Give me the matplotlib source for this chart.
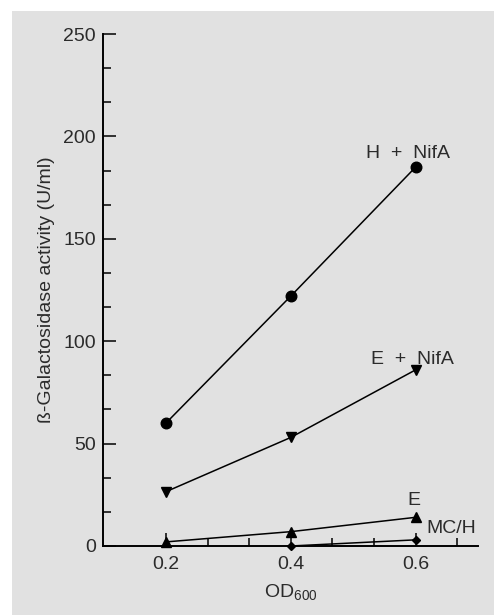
import matplotlib
matplotlib.use('Agg')
import matplotlib.pyplot as plt
from matplotlib.patches import Rectangle
from matplotlib.ticker import MultipleLocator, FixedLocator

# values
od = [0.2, 0.4, 0.6]
h_nifa = [60, 122, 185]
e_nifa = [26.5, 53, 86]
e_only = [2, 7, 14]
od_mch = [0.4, 0.6]
mch = [0, 3]

plt.rcParams['font.family'] = ['Liberation Sans', 'DejaVu Sans']
plt.rcParams['mathtext.fontset'] = 'custom'
plt.rcParams['mathtext.rm'] = 'Liberation Sans'
txt = '#2b2b2b'

fig = plt.figure(figsize=(4.94, 6.15), dpi=100, facecolor='white')
# grey panel with small white margin at left/top
fig.patches.append(Rectangle((12 / 494, 0), 1, 1 - 11 / 615, transform=fig.transFigure,
                             facecolor='#e1e1e1', edgecolor='none', zorder=-10))

ax = fig.add_axes([0.2095, 0.1122, 0.7581, 0.8325])
ax.set_facecolor('none')

lw = 1.1
ax.plot(od, h_nifa, color='black', lw=lw, marker='o', ms=7.6, clip_on=False)
ax.plot(od, e_nifa, color='black', lw=lw, marker='v', ms=7.4, clip_on=False)
ax.plot(od, e_only, color='black', lw=lw, marker='^', ms=7.4, clip_on=False)
ax.plot(od_mch, mch, color='black', lw=lw, marker='D', ms=4.3, clip_on=False)

fs = 14
ax.text(0.655, 189.5, 'H  +  NifA', ha='right', va='baseline', fontsize=fs, color=txt)
ax.text(0.661, 89, 'E  +  NifA', ha='right', va='baseline', fontsize=fs, color=txt)
ax.text(0.597, 20, 'E', ha='center', va='baseline', fontsize=fs, color=txt)
ax.text(0.617, 6.2, 'MC/H', ha='left', va='baseline', fontsize=fs, color=txt)

ax.set_xlim(0.1, 0.7)
ax.set_ylim(0, 250)
ax.spines['top'].set_visible(False)
ax.spines['right'].set_visible(False)
for s in ['left', 'bottom']:
    ax.spines[s].set_linewidth(1.4)
    ax.spines[s].set_color('black')

ax.xaxis.set_major_locator(FixedLocator(od))
ax.xaxis.set_minor_locator(FixedLocator([0.2 + i * 0.2 / 3 for i in range(1, 8) if i % 3 != 0]))
ax.set_xticklabels(['0.2', '0.4', '0.6'])
ax.yaxis.set_major_locator(MultipleLocator(50))
ax.yaxis.set_minor_locator(MultipleLocator(50 / 3))

ax.tick_params(which='major', direction='in', length=9.4, width=1.1, color='black',
               labelsize=fs, labelcolor=txt)
ax.tick_params(which='minor', direction='in', length=5.8, width=1.1, color='black')
ax.tick_params(axis='y', which='major', pad=5.5)
ax.tick_params(axis='x', which='major', pad=7)

ax.set_xlabel(r'OD$_{\mathrm{600}}$', fontsize=fs, color=txt, labelpad=7)
ax.set_ylabel('ß-Galactosidase activity (U/ml)', fontsize=fs, color=txt, labelpad=6)

fig.savefig('out.png', dpi=100, facecolor=fig.get_facecolor())
